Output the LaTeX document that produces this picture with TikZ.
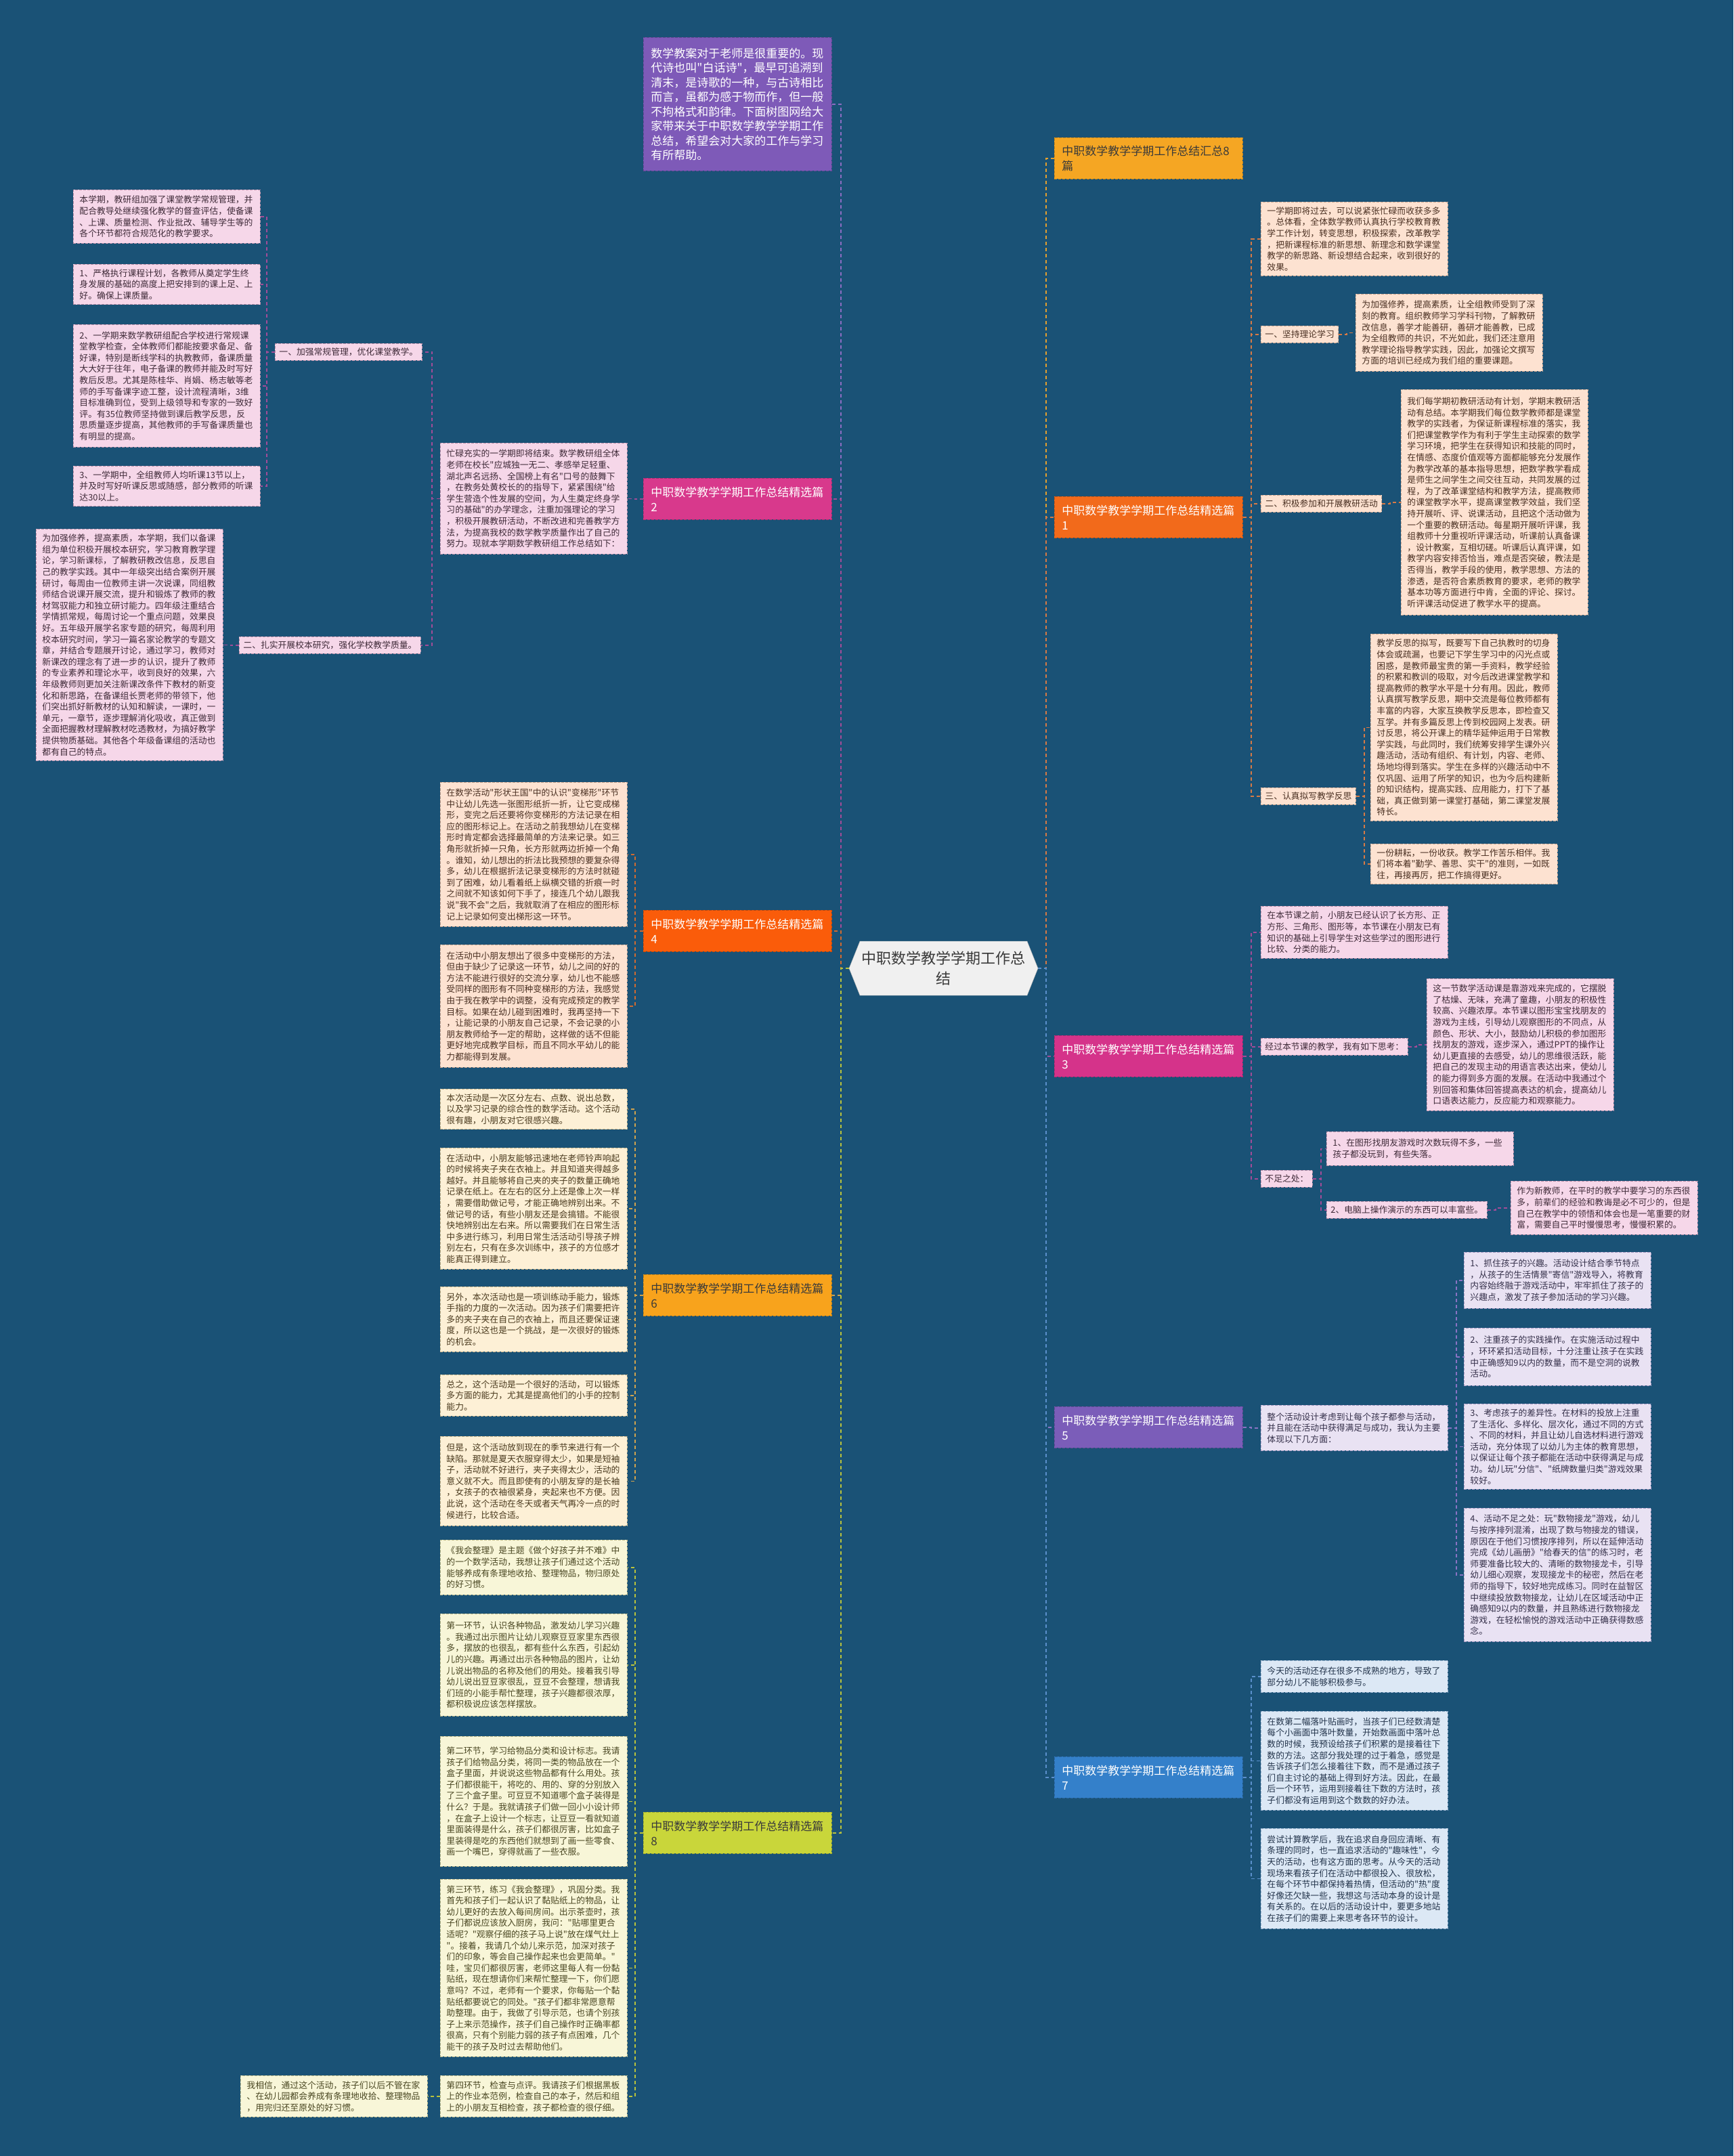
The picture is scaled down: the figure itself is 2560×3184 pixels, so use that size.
\documentclass[tikz,border=0pt]{standalone}
\usepackage{fontspec}
\setmainfont{Noto Sans CJK SC}[Ligatures=TeXOff]
\usetikzlibrary{backgrounds}
\definecolor{bg}{HTML}{1A5276}
\definecolor{introC}{HTML}{7E5AB8}
\definecolor{sumC}{HTML}{F5A623}
\definecolor{pAC}{HTML}{F26A1B}
\definecolor{pBC}{HTML}{D8398C}
\definecolor{pCC}{HTML}{D5338A}
\definecolor{pDC}{HTML}{FA5C0A}
\definecolor{pEC}{HTML}{7B5DB9}
\definecolor{pFC}{HTML}{F8A31C}
\definecolor{pGC}{HTML}{3480CA}
\definecolor{pHC}{HTML}{C9D63A}
\definecolor{ctrC}{HTML}{F0F0F0}
\definecolor{darkT}{HTML}{3A3A3A}
\definecolor{pinkL}{HTML}{F6D7E9}\definecolor{pinkT}{HTML}{3F2A38}\definecolor{pinkD}{HTML}{B88FA8}
\definecolor{peachL}{HTML}{FDE2D1}\definecolor{peachT}{HTML}{4A3022}\definecolor{peachD}{HTML}{C9A48F}
\definecolor{creamL}{HTML}{FDF0D6}\definecolor{creamT}{HTML}{4A3A1E}\definecolor{creamD}{HTML}{C9B48A}
\definecolor{yelL}{HTML}{F8F6D8}\definecolor{yelT}{HTML}{4A4722}\definecolor{yelD}{HTML}{BDB98A}
\definecolor{lavL}{HTML}{E9E2F3}\definecolor{lavT}{HTML}{35304A}\definecolor{lavD}{HTML}{A99CC4}
\definecolor{blueL}{HTML}{DCE8F5}\definecolor{blueT}{HTML}{23344B}\definecolor{blueD}{HTML}{93AECB}
\definecolor{cA}{HTML}{D77A45}
\definecolor{cB}{HTML}{A24C98}
\definecolor{cD}{HTML}{D06A30}
\definecolor{cE}{HTML}{8A73C4}
\definecolor{cF}{HTML}{CFA24E}
\definecolor{cG}{HTML}{5B90CC}
\definecolor{cH}{HTML}{B9C23C}
\definecolor{cIntro}{HTML}{8C6DC2}
\definecolor{cSum}{HTML}{E5A02E}
\newcommand\fleaf{\fontsize{12.8pt}{16.6pt}\selectfont}
\newcommand\ftitle{\fontsize{17pt}{22pt}\selectfont}
\newcommand\fintro{\fontsize{17pt}{21.5pt}\selectfont}
\newcommand\fcenter{\fontsize{22pt}{30pt}\selectfont}
\newcommand\cR[3]{\draw[conn=#1] (#2.east) -- ++(12,0) |- (#3.west);}
\newcommand\cL[3]{\draw[conn=#1] (#2.west) -- ++(-12,0) |- (#3.east);}
\tikzset{
  conn/.style={draw=#1, line width=1.8pt, dash pattern=on 5pt off 4pt},
  boxline/.style={line width=0.9pt, dash pattern=on 4pt off 2pt},
  leafbase/.style={boxline, anchor=north west, inner xsep=9pt, inner ysep=7pt, align=left, text width=258pt, font=\fleaf},
  labbase/.style={boxline, anchor=north west, inner xsep=6pt, inner ysep=5pt, minimum height=25pt, font=\fleaf},
  pinkbox/.style={fill=pinkL, draw=pinkD, text=pinkT},
  peachbox/.style={fill=peachL, draw=peachD, text=peachT},
  creambox/.style={fill=creamL, draw=creamD, text=creamT},
  yelbox/.style={fill=yelL, draw=yelD, text=yelT},
  lavbox/.style={fill=lavL, draw=lavD, text=lavT},
  bluebox/.style={fill=blueL, draw=blueD, text=blueT},
  titlebox/.style={boxline, anchor=north west, minimum width=278pt, minimum height=61pt, inner xsep=11pt, align=left, text width=256pt, font=\ftitle}
}
\begin{document}
\begin{tikzpicture}[x=1pt,y=-1pt]
\useasboundingbox (0,0) rectangle (2560,3184);
\begin{pgfonlayer}{background}
\fill[bg] (0,0) rectangle (2560,3184);
\end{pgfonlayer}

% ---------------- center ----------------
\fill[ctrC, draw=gray!60] (1270,1390) -- (1517,1390) -- (1533,1430) -- (1517,1470) -- (1270,1470) -- (1254,1430) -- cycle;
\node[minimum width=279pt, minimum height=80pt, inner sep=0pt, align=center, font=\fcenter, text=darkT] (ctr) at (1393.5,1430) {中职数学教学学期工作总\\结};

% ---------------- main branches ----------------
\node[titlebox, fill=introC, draw=introC!80!black, text=white, minimum height=197pt, font=\fintro] (intro) at (950,55) {数学教案对于老师是很重要的。现\\代诗也叫"白话诗"，最早可追溯到\\清末，是诗歌的一种，与古诗相比\\而言，虽都为感于物而作，但一般\\不拘格式和韵律。下面树图网给大\\家带来关于中职数学教学学期工作\\总结，希望会对大家的工作与学习\\有所帮助。};
\node[titlebox, fill=sumC, draw=sumC!80!black, text=darkT] (psum) at (1557,203) {中职数学教学学期工作总结汇总8\\篇};
\node[titlebox, fill=pAC, draw=pAC!80!black, text=white] (pa) at (1557,733) {中职数学教学学期工作总结精选篇\\1};
\node[titlebox, fill=pBC, draw=pBC!80!black, text=white] (pb) at (950,706) {中职数学教学学期工作总结精选篇\\2};
\node[titlebox, fill=pCC, draw=pCC!80!black, text=white] (pc) at (1557,1529) {中职数学教学学期工作总结精选篇\\3};
\node[titlebox, fill=pDC, draw=pDC!80!black, text=white] (pd) at (950,1344) {中职数学教学学期工作总结精选篇\\4};
\node[titlebox, fill=pEC, draw=pEC!80!black, text=white] (pe) at (1557,2077) {中职数学教学学期工作总结精选篇\\5};
\node[titlebox, fill=pFC, draw=pFC!80!black, text=darkT] (pf) at (950,1882) {中职数学教学学期工作总结精选篇\\6};
\node[titlebox, fill=pGC, draw=pGC!80!black, text=white] (pg) at (1557,2594) {中职数学教学学期工作总结精选篇\\7};
\node[titlebox, fill=pHC, draw=pHC!80!black, text=darkT] (ph) at (950,2676) {中职数学教学学期工作总结精选篇\\8};

% ---------------- block 1 (right) ----------------
\node[leafbase, peachbox, minimum height=108pt] (a1) at (1862,298) {一学期即将过去，可以说紧张忙碌而收获多多\\。总体看，全体数学教师认真执行学校教育教\\学工作计划，转变思想，积极探索，改革教学\\，把新课程标准的新思想、新理念和数学课堂\\教学的新思路、新设想结合起来，收到很好的\\效果。};
\node[labbase, peachbox] (a2) at (1862,481) {一、坚持理论学习};
\node[leafbase, peachbox, minimum height=114pt] (a2c) at (2002,434) {为加强修养，提高素质，让全组教师受到了深\\刻的教育。组织教师学习学科刊物，了解教研\\改信息，善学才能善研，善研才能善教，已成\\为全组教师的共识，不光如此，我们还注意用\\教学理论指导教学实践，因此，加强论文撰写\\方面的培训已经成为我们组的重要课题。};
\node[labbase, peachbox] (a3) at (1862,731) {二、积极参加和开展教研活动};
\node[leafbase, peachbox, minimum height=333pt] (a3c) at (2069,575) {我们每学期初教研活动有计划，学期末教研活\\动有总结。本学期我们每位数学教师都是课堂\\教学的实践者，为保证新课程标准的落实，我\\们把课堂教学作为有利于学生主动探索的数学\\学习环境，把学生在获得知识和技能的同时，\\在情感、态度价值观等方面都能够充分发展作\\为教学改革的基本指导思想，把数学教学看成\\是师生之间学生之间交往互动，共同发展的过\\程，为了改革课堂结构和教学方法，提高教师\\的课堂教学水平，提高课堂教学效益，我们坚\\持开展听、评、说课活动，且把这个活动做为\\一个重要的教研活动。每星期开展听评课，我\\组教师十分重视听评课活动，听课前认真备课\\，设计教案，互相切磋。听课后认真评课，如\\教学内容安排否恰当，难点是否突破，教法是\\否得当，教学手段的使用，教学思想、方法的\\渗透，是否符合素质教育的要求，老师的教学\\基本功等方面进行中肯，全面的评论、探讨。\\听评课活动促进了教学水平的提高。};
\node[labbase, peachbox] (a4) at (1862,1163) {三、认真拟写教学反思};
\node[leafbase, peachbox, minimum height=276pt] (a4c) at (2024,936) {教学反思的拟写，既要写下自己执教时的切身\\体会或疏漏，也要记下学生学习中的闪光点或\\困惑，是教师最宝贵的第一手资料，教学经验\\的积累和教训的吸取，对今后改进课堂教学和\\提高教师的教学水平是十分有用。因此，教师\\认真撰写教学反思，期中交流是每位教师都有\\丰富的内容，大家互换教学反思本，即检查又\\互学。并有多篇反思上传到校园网上发表。研\\讨反思，将公开课上的精华延伸运用于日常教\\学实践，与此同时，我们统筹安排学生课外兴\\趣活动，活动有组织、有计划，内容、老师、\\场地均得到落实。学生在多样的兴趣活动中不\\仅巩固、运用了所学的知识，也为今后构建新\\的知识结构，提高实践、应用能力，打下了基\\础，真正做到第一课堂打基础，第二课堂发展\\特长。};
\node[leafbase, peachbox, minimum height=59pt] (a4d) at (2024,1246) {一份耕耘，一份收获。教学工作苦乐相伴。我\\们将本着"勤学、善思、实干"的准则，一如既\\往，再接再厉，把工作搞得更好。};

% ---------------- block 3 (right) ----------------
\node[leafbase, pinkbox, minimum height=77pt] (c1) at (1862,1338) {在本节课之前，小朋友已经认识了长方形、正\\方形、三角形、图形等，本节课在小朋友已有\\知识的基础上引导学生对这些学过的图形进行\\比较、分类的能力。};
\node[labbase, pinkbox] (c2) at (1862,1533) {经过本节课的教学，我有如下思考：};
\node[leafbase, pinkbox, minimum height=195pt] (c2c) at (2107,1445) {这一节数学活动课是靠游戏来完成的，它摆脱\\了枯燥、无味，充满了童趣，小朋友的积极性\\较高、兴趣浓厚。本节课以图形宝宝找朋友的\\游戏为主线，引导幼儿观察图形的不同点，从\\颜色、形状、大小，鼓励幼儿积极的参加图形\\找朋友的游戏，逐步深入，通过PPT的操作让\\幼儿更直接的去感受，幼儿的思维很活跃，能\\把自己的发现主动的用语言表达出来，使幼儿\\的能力得到多方面的发展。在活动中我通过个\\别回答和集体回答提高表达的机会，提高幼儿\\口语表达能力，反应能力和观察能力。};
\node[labbase, pinkbox] (c3) at (1862,1728) {不足之处：};
\node[leafbase, pinkbox, minimum height=50pt] (c3a) at (1959,1671) {1、在图形找朋友游戏时次数玩得不多，一些\\孩子都没玩到，有些失落。};
\node[labbase, pinkbox] (c3b) at (1959,1774) {2、电脑上操作演示的东西可以丰富些。};
\node[leafbase, pinkbox, minimum height=79pt] (c3bc) at (2231,1744) {作为新教师，在平时的教学中要学习的东西很\\多，前辈们的经验和教诲是必不可少的，但是\\自己在教学中的领悟和体会也是一笔重要的财\\富，需要自己平时慢慢思考，慢慢积累的。};

% ---------------- block 5 (right) ----------------
\node[leafbase, lavbox, minimum height=67pt] (e1) at (1862,2075) {整个活动设计考虑到让每个孩子都参与活动，\\并且能在活动中获得满足与成功，我认为主要\\体现以下几方面：};
\node[leafbase, lavbox, minimum height=83pt] (e1a) at (2162,1849) {1、抓住孩子的兴趣。活动设计结合季节特点\\，从孩子的生活情景"寄信"游戏导入，将教育\\内容始终融于游戏活动中，牢牢抓住了孩子的\\兴趣点，激发了孩子参加活动的学习兴趣。};
\node[leafbase, lavbox, minimum height=85pt] (e1b) at (2162,1961) {2、注重孩子的实践操作。在实施活动过程中\\，环环紧扣活动目标，十分注重让孩子在实践\\中正确感知9以内的数量，而不是空洞的说教\\活动。};
\node[leafbase, lavbox, minimum height=126pt] (e1c) at (2162,2073) {3、考虑孩子的差异性。在材料的投放上注重\\了生活化、多样化、层次化，通过不同的方式\\、不同的材料，并且让幼儿自选材料进行游戏\\活动，充分体现了以幼儿为主体的教育思想，\\以保证让每个孩子都能在活动中获得满足与成\\功。幼儿玩"分信"、"纸牌数量归类"游戏效果\\较好。};
\node[leafbase, lavbox, minimum height=197pt] (e1d) at (2162,2227) {4、活动不足之处：玩"数物接龙"游戏，幼儿\\与按序排列混淆，出现了数与物接龙的错误，\\原因在于他们习惯按序排列，所以在延伸活动\\完成《幼儿画册》"给春天的信"的练习时，老\\师要准备比较大的、清晰的数物接龙卡，引导\\幼儿细心观察，发现接龙卡的秘密，然后在老\\师的指导下，较好地完成练习。同时在益智区\\中继续投放数物接龙，让幼儿在区域活动中正\\确感知9以内的数量，并且熟练进行数物接龙\\游戏，在轻松愉悦的游戏活动中正确获得数感\\念。};

% ---------------- block 7 (right) ----------------
\node[leafbase, bluebox, minimum height=47pt] (g1) at (1862,2452) {今天的活动还存在很多不成熟的地方，导致了\\部分幼儿不能够积极参与。};
\node[leafbase, bluebox, minimum height=146pt] (g2) at (1862,2527) {在数第二幅落叶贴画时，当孩子们已经数清楚\\每个小画面中落叶数量，开始数画面中落叶总\\数的时候，我预设给孩子们积累的是接着往下\\数的方法。这部分我处理的过于着急，感觉是\\告诉孩子们怎么接着往下数，而不是通过孩子\\们自主讨论的基础上得到好方法。因此，在最\\后一个环节，运用到接着往下数的方法时，孩\\子们都没有运用到这个数数的好办法。};
\node[leafbase, bluebox, minimum height=148pt] (g3) at (1862,2700) {尝试计算教学后，我在追求自身回应清晰、有\\条理的同时，也一直追求活动的"趣味性"，今\\天的活动，也有这方面的思考。从今天的活动\\现场来看孩子们在活动中都很投入、很放松，\\在每个环节中都保持着热情，但活动的"热"度\\好像还欠缺一些，我想这与活动本身的设计是\\有关系的。在以后的活动设计中，要更多地站\\在孩子们的需要上来思考各环节的设计。};

% ---------------- block 2 (left) ----------------
\node[leafbase, pinkbox, minimum height=164pt] (b1) at (650,654) {忙碌充实的一学期即将结束。数学教研组全体\\老师在校长"应城独一无二、孝感举足轻重、\\湖北声名远扬、全国榜上有名"口号的鼓舞下\\，在教务处黄校长的的指导下，紧紧围绕"给\\学生营造个性发展的空间，为人生奠定终身学\\习的基础"的办学理念，注重加强理论的学习\\，积极开展教研活动，不断改进和完善教学方\\法，为提高我校的数学教学质量作出了自己的\\努力。现就本学期数学教研组工作总结如下：};
\node[labbase, pinkbox] (b2) at (406,507) {一、加强常规管理，优化课堂教学。};
\node[leafbase, pinkbox, minimum height=79pt] (b2a) at (108,280) {本学期，教研组加强了课堂教学常规管理，并\\配合教导处继续强化教学的督查评估，使备课\\、上课、质量检测、作业批改、辅导学生等的\\各个环节都符合规范化的教学要求。};
\node[leafbase, pinkbox, minimum height=59pt] (b2b) at (108,390) {1、严格执行课程计划，各教师从奠定学生终\\身发展的基础的高度上把安排到的课上足、上\\好。确保上课质量。};
\node[leafbase, pinkbox, minimum height=181pt] (b2c) at (108,479) {2、一学期来数学教研组配合学校进行常规课\\堂教学检查，全体教师们都能按要求备足、备\\好课，特别是断线学科的执教教师，备课质量\\大大好于往年，电子备课的教师并能及时写好\\教后反思。尤其是陈桂华、肖娟、杨志敏等老\\师的手写备课字迹工整，设计流程清晰，3维\\目标准确到位，受到上级领导和专家的一致好\\评。有35位教师坚持做到课后教学反思，反\\思质量逐步提高，其他教师的手写备课质量也\\有明显的提高。};
\node[leafbase, pinkbox, minimum height=59pt] (b2d) at (108,688) {3、一学期中，全组教师人均听课13节以上，\\并及时写好听课反思或随感，部分教师的听课\\达30以上。};
\node[labbase, pinkbox] (b3) at (353,940) {二、扎实开展校本研究，强化学校教学质量。};
\node[leafbase, pinkbox, minimum height=342pt] (b3a) at (53,781) {为加强修养，提高素质，本学期，我们以备课\\组为单位积极开展校本研究，学习教育教学理\\论，学习新课标，了解教研教改信息，反思自\\己的教学实践。其中一年级突出结合案例开展\\研讨，每周由一位教师主讲一次说课，同组教\\师结合说课开展交流，提升和锻炼了教师的教\\材驾驭能力和独立研讨能力。四年级注重结合\\学情抓常规，每周讨论一个重点问题，效果良\\好。五年级开展学名家专题的研究，每周利用\\校本研究时间，学习一篇名家论教学的专题文\\章，并结合专题展开讨论，通过学习，教师对\\新课改的理念有了进一步的认识，提升了教师\\的专业素养和理论水平，收到良好的效果，六\\年级教师则更加关注新课改条件下教材的新变\\化和新思路，在备课组长贾老师的带领下，他\\们突出抓好新教材的认知和解读，一课时，一\\单元，一章节，逐步理解消化吸收，真正做到\\全面把握教材理解教材吃透教材，为搞好教学\\提供物质基础。其他各个年级备课组的活动也\\都有自己的特点。};

% ---------------- block 4 (left) ----------------
\node[leafbase, peachbox, minimum height=213pt] (d1) at (650,1155) {在数学活动"形状王国"中的认识"变梯形"环节\\中让幼儿先选一张图形纸折一折，让它变成梯\\形，变完之后还要将你变梯形的方法记录在相\\应的图形标记上。在活动之前我想幼儿在变梯\\形时肯定都会选择最简单的方法来记录。如三\\角形就折掉一只角，长方形就两边折掉一个角\\。谁知，幼儿想出的折法比我预想的要复杂得\\多，幼儿在根据折法记录变梯形的方法时就碰\\到了困难，幼儿看着纸上纵横交错的折痕一时\\之间就不知该如何下手了，接连几个幼儿跟我\\说"我不会"之后，我就取消了在相应的图形标\\记上记录如何变出梯形这一环节。};
\node[leafbase, peachbox, minimum height=181pt] (d2) at (650,1395) {在活动中小朋友想出了很多中变梯形的方法，\\但由于缺少了记录这一环节，幼儿之间的好的\\方法不能进行很好的交流分享，幼儿也不能感\\受同样的图形有不同种变梯形的方法，我感觉\\由于我在教学中的调整，没有完成预定的教学\\目标。如果在幼儿碰到困难时，我再坚持一下\\，让能记录的小朋友自己记录，不会记录的小\\朋友教师给予一定的帮助，这样做的话不但能\\更好地完成教学目标，而且不同水平幼儿的能\\力都能得到发展。};

% ---------------- block 6 (left) ----------------
\node[leafbase, creambox, minimum height=59pt] (f1) at (650,1608) {本次活动是一次区分左右、点数、说出总数，\\以及学习记录的综合性的数学活动。这个活动\\很有趣，小朋友对它很感兴趣。};
\node[leafbase, creambox, minimum height=179pt] (f2) at (650,1695) {在活动中，小朋友能够迅速地在老师铃声响起\\的时候将夹子夹在衣袖上。并且知道夹得越多\\越好。并且能够将自己夹的夹子的数量正确地\\记录在纸上。在左右的区分上还是像上次一样\\，需要借助做记号，才能正确地辨别出来。不\\做记号的话，有些小朋友还是会搞错。不能很\\快地辨别出左右来。所以需要我们在日常生活\\中多进行练习，利用日常生活活动引导孩子辨\\别左右，只有在多次训练中，孩子的方位感才\\能真正得到建立。};
\node[leafbase, creambox, minimum height=96pt] (f3) at (650,1900) {另外，本次活动也是一项训练动手能力，锻炼\\手指的力度的一次活动。因为孩子们需要把许\\多的夹子夹在自己的衣袖上，而且还要保证速\\度，所以这也是一个挑战，是一次很好的锻炼\\的机会。};
\node[leafbase, creambox, minimum height=61pt] (f4) at (650,2030) {总之，这个活动是一个很好的活动，可以锻炼\\多方面的能力，尤其是提高他们的小手的控制\\能力。};
\node[leafbase, creambox, minimum height=132pt] (f5) at (650,2121) {但是，这个活动放到现在的季节来进行有一个\\缺陷。那就是夏天衣服穿得太少，如果是短袖\\子，活动就不好进行，夹子夹得太少，活动的\\意义就不大。而且即使有的小朋友穿的是长袖\\，女孩子的衣袖很紧身，夹起来也不方便。因\\此说，这个活动在冬天或者天气再冷一点的时\\候进行，比较合适。};

% ---------------- block 8 (left) ----------------
\node[leafbase, yelbox, minimum height=81pt] (h1) at (650,2274) {《我会整理》是主题《做个好孩子并不难》中\\的一个数学活动，我想让孩子们通过这个活动\\能够养成有条理地收拾、整理物品，物归原处\\的好习惯。};
\node[leafbase, yelbox, minimum height=151pt] (h2) at (650,2383) {第一环节，认识各种物品，激发幼儿学习兴趣\\。我通过出示图片让幼儿观察豆豆家里东西很\\多，摆放的也很乱，都有些什么东西，引起幼\\儿的兴趣。再通过出示各种物品的图片，让幼\\儿说出物品的名称及他们的用处。接着我引导\\幼儿说出豆豆家很乱，豆豆不会整理，想请我\\们班的小能手帮忙整理，孩子兴趣都很浓厚，\\都积极说应该怎样摆放。};
\node[leafbase, yelbox, minimum height=192pt] (h3) at (650,2564) {第二环节，学习给物品分类和设计标志。我请\\孩子们给物品分类，将同一类的物品放在一个\\盒子里面，并说说这些物品都有什么用处。孩\\子们都很能干，将吃的、用的、穿的分别放入\\了三个盒子里。可豆豆不知道哪个盒子装得是\\什么？于是。我就请孩子们做一回小小设计师\\，在盒子上设计一个标志，让豆豆一看就知道\\里面装得是什么，孩子们都很厉害，比如盒子\\里装得是吃的东西他们就想到了画一些零食、\\画一个嘴巴，穿得就画了一些衣服。};
\node[leafbase, yelbox, minimum height=262pt] (h4) at (650,2775) {第三环节，练习《我会整理》，巩固分类。我\\首先和孩子们一起认识了黏贴纸上的物品，让\\幼儿更好的去放入每间房间。出示茶壶时，孩\\子们都说应该放入厨房，我问："贴哪里更合\\适呢？"观察仔细的孩子马上说"放在煤气灶上\\"。接着，我请几个幼儿来示范，加深对孩子\\们的印象，等会自己操作起来也会更简单。"\\哇，宝贝们都很厉害，老师这里每人有一份黏\\贴纸，现在想请你们来帮忙整理一下，你们愿\\意吗？不过，老师有一个要求，你每贴一个黏\\贴纸都要说它的同处。"孩子们都非常愿意帮\\助整理。由于，我做了引导示范，也请个别孩\\子上来示范操作，孩子们自己操作时正确率都\\很高，只有个别能力弱的孩子有点困难，几个\\能干的孩子及时过去帮助他们。};
\node[leafbase, yelbox, minimum height=61pt] (h5) at (650,3065) {第四环节，检查与点评。我请孩子们根据黑板\\上的作业本范例，检查自己的本子，然后和组\\上的小朋友互相检查，孩子都检查的很仔细。};
\node[leafbase, yelbox, minimum height=61pt] (h6) at (355,3065) {我相信，通过这个活动，孩子们以后不管在家\\、在幼儿园都会养成有条理地收拾、整理物品\\，用完归还至原处的好习惯。};

% ---------------- connectors ----------------
\begin{pgfonlayer}{background}
\cL{cIntro}{ctr}{intro}
\cL{cB}{ctr}{pb}
\cL{cD}{ctr}{pd}
\cL{cF}{ctr}{pf}
\cL{cH}{ctr}{ph}
\cR{cSum}{ctr}{psum}
\cR{cA}{ctr}{pa}
\cR{cB}{ctr}{pc}
\cR{cE}{ctr}{pe}
\cR{cG}{ctr}{pg}
% block 1
\cR{cA}{pa}{a1}\cR{cA}{pa}{a2}\cR{cA}{pa}{a3}\cR{cA}{pa}{a4}
\cR{cA}{a2}{a2c}\cR{cA}{a3}{a3c}\cR{cA}{a4}{a4c}\cR{cA}{a4}{a4d}
% block 3
\cR{cB}{pc}{c1}\cR{cB}{pc}{c2}\cR{cB}{pc}{c3}
\cR{cB}{c2}{c2c}\cR{cB}{c3}{c3a}\cR{cB}{c3}{c3b}\cR{cB}{c3b}{c3bc}
% block 5
\cR{cE}{pe}{e1}
\cR{cE}{e1}{e1a}\cR{cE}{e1}{e1b}\cR{cE}{e1}{e1c}\cR{cE}{e1}{e1d}
% block 7
\cR{cG}{pg}{g1}\cR{cG}{pg}{g2}\cR{cG}{pg}{g3}
% block 2
\cL{cB}{pb}{b1}
\cL{cB}{b1}{b2}\cL{cB}{b1}{b3}
\cL{cB}{b2}{b2a}\cL{cB}{b2}{b2b}\cL{cB}{b2}{b2c}\cL{cB}{b2}{b2d}
\cL{cB}{b3}{b3a}
% block 4
\cL{cD}{pd}{d1}\cL{cD}{pd}{d2}
% block 6
\cL{cF}{pf}{f1}\cL{cF}{pf}{f2}\cL{cF}{pf}{f3}\cL{cF}{pf}{f4}\cL{cF}{pf}{f5}
% block 8
\cL{cH}{ph}{h1}\cL{cH}{ph}{h2}\cL{cH}{ph}{h3}\cL{cH}{ph}{h4}\cL{cH}{ph}{h5}
\cL{cH}{h5}{h6}
\end{pgfonlayer}
\end{tikzpicture}
\end{document}
